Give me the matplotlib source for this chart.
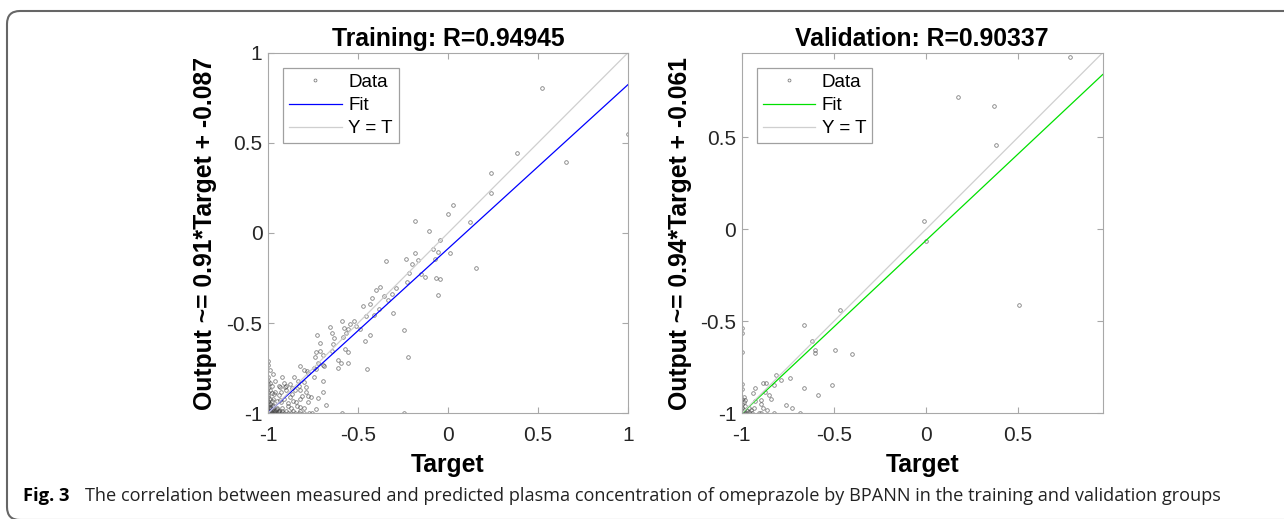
import matplotlib
matplotlib.use("Agg")
import matplotlib.pyplot as plt
from matplotlib.patches import FancyBboxPatch
from matplotlib.transforms import IdentityTransform

plt.rcParams['font.family'] = ['Liberation Sans', 'DejaVu Sans']

# ---- training set: (target, output) pairs ----
train_x = [0.524, 1.0, 0.383, 0.657, 0.241, 0.241, 0.026, 0.002, -0.185, 0.124,
           -0.106, -0.046, -0.081, -0.183, 0.011, -0.231, -0.169, -0.343, -0.074, -0.202,
           -0.056, 0.154, -0.219, -0.150, -0.130, -0.065, -0.044, -0.228, -0.289, -0.380,
           -0.402, -0.057, -0.357, -0.309, -0.424, -0.335, -0.435, -0.470, -0.381, -0.307,
           -0.456, -0.409, -0.589, -0.520, -0.543, -0.511, -0.576, -0.556, -0.567, -0.487,
           -0.657, -0.643, -0.581, -0.636, -0.246, -0.435, -0.463, -0.730, -0.713, -0.641,
           -0.572, -0.556, -0.646, -0.735, -0.711, -0.693, -0.737, -0.220, -0.611, -0.593,
           -0.554, -0.613, -0.722, -0.694, -0.689, -0.746, -0.820, -0.731, -0.798, -0.785,
           -0.778, -0.452, -0.746, -0.854, -0.696, -0.831, -0.798, -0.787, -0.907, -0.898,
           -0.867, -0.820, -0.931, -0.696, -0.865, -0.811, -0.780, -0.724, -0.969, -0.931,
           -0.846, -0.889, -0.678, -0.731, -0.820, -0.754, -0.589, -0.246,
           # dense corner near (-1, -1)
           -1.0, -1.0, -1.0, -1.0, -1.0, -1.0, -1.0, -1.0, -1.0, -1.0,
           -1.0, -1.0, -1.0, -1.0, -1.0, -1.0, -1.0,
           -0.99, -0.99, -0.99, -0.99, -0.99, -0.99,
           -0.98, -0.98, -0.98, -0.98, -0.98,
           -0.98, -0.96, -0.95, -0.93, -0.91, -0.89, -0.87, -0.85, -0.83, -0.80, -0.77,
           -0.97, -0.94, -0.92, -0.90, -0.86, -0.82,
           -0.97, -0.95, -0.94, -0.93, -0.92, -0.96, -0.91, -0.89, -0.88, -0.87,
           -0.95, -0.97, -0.93, -0.90, -0.86, -0.84, -0.82, -0.80, -0.94, -0.91,
           -0.96, -0.92, -0.88, -0.85, -0.83, -0.79, -0.78, -0.76, -0.98, -0.97, -0.99,
           -0.985, -0.975, -0.965, -0.955, -0.945, -0.99, -0.97, -0.96, -0.95, -0.94]
train_y = [0.802, 0.551, 0.442, 0.396, 0.331, 0.220, 0.157, 0.107, 0.067, 0.063,
           0.011, -0.039, -0.089, -0.111, -0.111, -0.144, -0.152, -0.153, -0.144, -0.172,
           -0.107, -0.192, -0.224, -0.227, -0.246, -0.248, -0.253, -0.270, -0.305, -0.301,
           -0.314, -0.342, -0.347, -0.338, -0.362, -0.373, -0.394, -0.403, -0.423, -0.446,
           -0.458, -0.455, -0.490, -0.488, -0.507, -0.514, -0.525, -0.534, -0.553, -0.532,
           -0.521, -0.556, -0.577, -0.580, -0.536, -0.567, -0.599, -0.564, -0.612, -0.616,
           -0.643, -0.662, -0.653, -0.658, -0.654, -0.678, -0.689, -0.689, -0.706, -0.723,
           -0.719, -0.750, -0.719, -0.732, -0.738, -0.747, -0.738, -0.756, -0.760, -0.763,
           -0.778, -0.754, -0.798, -0.800, -0.821, -0.819, -0.824, -0.852, -0.856, -0.848,
           -0.861, -0.871, -0.856, -0.880, -0.893, -0.904, -0.904, -0.917, -0.895, -0.926,
           -0.939, -0.941, -0.956, -0.974, -0.967, -1.0, -1.0, -1.0,
           -0.71, -0.73, -0.80, -0.82, -0.84, -0.86, -0.88, -0.90, -0.91, -0.93,
           -0.94, -0.95, -0.96, -0.97, -0.98, -0.99, -1.0,
           -0.83, -0.87, -0.92, -0.95, -0.97, -0.99,
           -0.89, -0.93, -0.96, -0.98, -1.0,
           -1.0, -1.0, -1.0, -1.0, -1.0, -1.0, -1.0, -1.0, -1.0, -1.0, -1.0,
           -0.99, -0.99, -0.99, -0.99, -0.99, -0.99,
           -0.92, -0.97, -0.90, -0.94, -0.97, -0.88, -0.92, -0.96, -0.91, -0.97,
           -0.93, -0.96, -0.88, -0.87, -0.93, -0.96, -0.92, -0.97, -0.85, -0.83,
           -0.82, -0.80, -0.84, -0.87, -0.85, -0.88, -0.94, -0.91, -0.85, -0.78, -0.76,
           -0.985, -0.975, -0.99, -0.98, -0.995, -0.965, -0.955, -0.985, -0.975, -0.99]

# ---- validation set ----
val_x = [0.780, 0.174, 0.372, 0.381, -0.009, -0.002, 0.508, -0.466, -0.664, -0.619,
         -0.604, -0.604, -0.495, -0.399, -0.813, -0.739, -0.786, -0.886, -0.866, -0.826,
         -0.926, -0.661, -0.508, -0.940, -0.871, -0.851, -0.840, -0.588, -0.926, -0.895,
         -0.893, -0.762, -0.728, -0.882, -0.864, -0.931, -0.822, -0.681, -0.907, -0.895,
         -0.945, -0.958,
         -1.0, -1.0, -1.0, -1.0, -0.996, -1.0, -1.0, -1.0, -1.0, -1.0,
         -0.99, -0.99, -0.98, -0.98, -0.97, -0.96, -0.99, -0.97, -0.95, -0.98]
val_y = [0.935, 0.720, 0.668, 0.461, 0.047, -0.064, -0.414, -0.441, -0.521, -0.606,
         -0.655, -0.673, -0.657, -0.677, -0.791, -0.808, -0.819, -0.837, -0.838, -0.848,
         -0.860, -0.860, -0.846, -0.889, -0.884, -0.898, -0.920, -0.902, -0.931, -0.926,
         -0.947, -0.956, -0.973, -0.969, -0.980, -0.969, -1.0, -1.0, -1.0, -1.0,
         -0.996, -0.993,
         -0.534, -0.566, -0.668, -0.842, -0.866, -0.920, -0.95, -0.97, -0.99, -1.0,
         -0.94, -0.98, -0.96, -1.0, -0.99, -0.97, -0.91, -1.0, -0.98, -0.93]

panel_titles = ['Training: R=0.94945', 'Validation: R=0.90337']
ylabels = ['Output ~= 0.91*Target + -0.087', 'Output ~= 0.94*Target + -0.061']
fit_slope = [0.91, 0.94]
fit_icept = [-0.087, -0.061]
fit_colors = ['#0000ff', '#00e000']
axis_max = [1.0, 0.96]
ticks = [[-1, -0.5, 0, 0.5, 1], [-1, -0.5, 0, 0.5]]
tick_labels = [['-1', '-0.5', '0', '0.5', '1'], ['-1', '-0.5', '0', '0.5']]
caption_bold = 'Fig. 3'
caption_text = ('The correlation between measured and predicted plasma concentration '
                'of omeprazole by BPANN in the training and validation groups')

W, H = 1284, 519
fig = plt.figure(figsize=(W / 100, H / 100), dpi=100)

# rounded frame around the figure (Springer style)
frame = FancyBboxPatch((7, -1), 1400, 509.0, boxstyle='round,pad=0,rounding_size=13',
                       transform=IdentityTransform(), facecolor='none',
                       edgecolor='#666666', linewidth=1.5)
fig.add_artist(frame)

ax_rects = [[268 / W, (H - 413.3) / H, 360 / W, 360.6 / H],
            [741.7 / W, (H - 413.3) / H, 361 / W, 360.6 / H]]
ylabel_right = [217, 692]   # right edge of the rotated y label, in pixels

data = [(train_x, train_y), (val_x, val_y)]
spine_col = '#a8a8a8'
big = 17.8

for i in range(2):
    ax = fig.add_axes(ax_rects[i])
    xs, ys = data[i]
    lo, hi = -1.0, axis_max[i]
    ax.plot(xs, ys, linestyle='none', marker='o', markersize=2.6, markerfacecolor='none',
            markeredgecolor='#4a4a4a', markeredgewidth=0.6, alpha=0.7, label='Data')
    ax.plot([lo, hi], [fit_slope[i] * lo + fit_icept[i], fit_slope[i] * hi + fit_icept[i]],
            color=fit_colors[i], linewidth=0.9, label='Fit')
    ax.plot([lo, hi], [lo, hi], color='#cfcfcf', linewidth=0.9, label='Y = T')
    ax.set_xlim(lo, hi)
    ax.set_ylim(lo, hi)
    ax.set_xticks(ticks[i])
    ax.set_xticklabels(tick_labels[i])
    ax.set_yticks(ticks[i])
    ax.set_yticklabels(tick_labels[i])
    ax.tick_params(direction='in', length=4, width=0.8, color=spine_col,
                   top=True, right=True, labelsize=15, labelcolor='#262626')
    ax.tick_params(axis='x', pad=9)
    ax.tick_params(axis='y', pad=4)
    for s in ax.spines.values():
        s.set_color(spine_col)
        s.set_linewidth(0.8)
    ax.set_title(panel_titles[i], fontsize=big, fontweight='bold', pad=5)
    ax.set_xlabel('Target', fontsize=big, fontweight='bold', labelpad=6)
    ax.set_ylabel(ylabels[i], fontsize=big, fontweight='bold')
    ax.yaxis.set_label_coords((ylabel_right[i] - ax_rects[i][0] * W) / 360, 0.5)
    leg = ax.legend(loc='upper left', bbox_to_anchor=(0.042, 0.958), borderaxespad=0,
                    fancybox=False, edgecolor='#a0a0a0', fontsize=13.5, handlelength=2.8,
                    handletextpad=0.35, labelspacing=0.32, borderpad=0.32, framealpha=1,
                    markerscale=0.8)
    leg.get_frame().set_linewidth(0.9)

fig.text(23 / W, 1 - 496 / H, caption_bold, fontsize=13.2, fontweight='bold',
         family=['Open Sans', 'DejaVu Sans'], va='center', ha='left')
fig.text(85 / W, 1 - 496 / H, caption_text, fontsize=13.1,
         family=['Open Sans', 'DejaVu Sans'], va='center', ha='left', color='#222222')

fig.savefig('out.png', dpi=100)
